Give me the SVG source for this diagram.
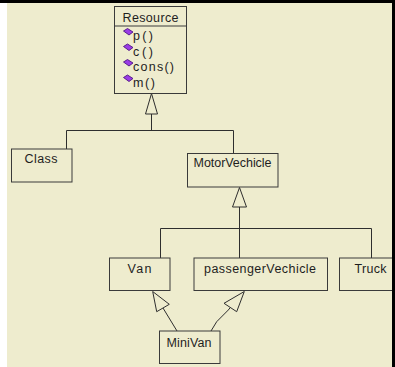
<svg xmlns="http://www.w3.org/2000/svg" width="395" height="367" viewBox="0 0 395 367">
  <style>
    .box { fill: none; stroke: #3a3a3a; stroke-width: 1; }
    .line { fill: none; stroke: #2e2e2e; stroke-width: 1; }
    .head { fill: #eeecce; stroke: #2e2e2e; stroke-width: 1; stroke-linejoin: miter; }
    .lbl { font-family: "Liberation Sans", Arial, sans-serif; font-size: 12.5px; fill: #1e1e1e; }
    .c { text-anchor: middle; }
    .op { fill: #9a3ce6; stroke: #4e1482; stroke-width: 0.9; }
  </style>

  <!-- canvas -->
  <rect x="0" y="0" width="395" height="367" fill="#ffffff"/>
  <rect x="7" y="0" width="385" height="367" fill="#eeecce"/>
  <rect x="0" y="0" width="395" height="3" fill="#000000"/>

  <!-- generalisation connectors -->
  <g id="connectors">
    <!-- Class / MotorVechicle -> Resource -->
    <polyline class="line" points="66.5,149 66.5,130.5 233.5,130.5 233.5,153"/>
    <line class="line" x1="151.5" y1="114" x2="151.5" y2="130.5"/>
    <polygon class="head" points="151.5,93.5 145.5,114 157.5,114"/>

    <!-- Van / passengerVechicle / Truck -> MotorVechicle -->
    <polyline class="line" points="160.5,258 160.5,228.5 371.5,228.5 371.5,258"/>
    <line class="line" x1="239.5" y1="207" x2="239.5" y2="258"/>
    <polygon class="head" points="239.5,187.5 232.5,207 246.5,207"/>

    <!-- MiniVan -> Van -->
    <line class="line" x1="163" y1="308" x2="177" y2="331"/>
    <polygon class="head" points="152.7,291.5 156.7,311.7 169.3,304.3"/>

    <!-- MiniVan -> passengerVechicle -->
    <polyline class="line" points="230.3,307.5 228.3,310 216.7,321.7 211,331"/>
    <polygon class="head" points="244.3,291.5 224,303.3 236.7,311.7"/>
  </g>

  <g id="Resource">
    <rect class="box" x="114.5" y="6.5" width="72" height="87"/>
    <line class="box" x1="114.5" y1="26" x2="186.5" y2="26"/>
    <text class="lbl c" x="150.5" y="21.5" textLength="56" lengthAdjust="spacing">Resource</text>
    <polygon class="op" points="123.5,31 127.5,28.5 133,32 129,35"/>
    <text class="lbl" x="133" y="40" textLength="20" lengthAdjust="spacing">p()</text>
    <polygon class="op" points="123.5,46.5 127.5,44 133,47.5 129,50.5"/>
    <text class="lbl" x="133" y="55.5" textLength="20" lengthAdjust="spacing">c()</text>
    <polygon class="op" points="123.5,62 127.5,59.5 133,63 129,66"/>
    <text class="lbl" x="133" y="71" textLength="41" lengthAdjust="spacing">cons()</text>
    <polygon class="op" points="123.5,77.5 127.5,75 133,78.5 129,81.5"/>
    <text class="lbl" x="133" y="86.5" textLength="22" lengthAdjust="spacing">m()</text>
  </g>

  <g id="Class">
    <rect class="box" x="11.5" y="149" width="60.5" height="33"/>
    <text class="lbl c" x="41" y="163" textLength="33" lengthAdjust="spacing">Class</text>
  </g>

  <g id="MotorVechicle">
    <rect class="box" x="187.5" y="153.5" width="90.5" height="33.5"/>
    <text class="lbl c" x="232.5" y="167" textLength="78" lengthAdjust="spacing">MotorVechicle</text>
  </g>

  <g id="Van">
    <rect class="box" x="109.5" y="258" width="60.5" height="32.5"/>
    <text class="lbl c" x="139.5" y="273" textLength="24" lengthAdjust="spacing">Van</text>
  </g>

  <g id="passengerVechicle">
    <rect class="box" x="194" y="258" width="133.5" height="32.5"/>
    <text class="lbl c" x="260" y="273" textLength="112" lengthAdjust="spacing">passengerVechicle</text>
  </g>

  <g id="Truck">
    <rect class="box" x="339.5" y="258" width="60" height="32.5"/>
    <text class="lbl" x="354.5" y="273" textLength="32" lengthAdjust="spacing">Truck</text>
  </g>

  <g id="MiniVan">
    <rect class="box" x="159.5" y="331" width="60.5" height="32.5"/>
    <text class="lbl c" x="189" y="347" textLength="45" lengthAdjust="spacing">MiniVan</text>
  </g>

  <!-- right frame drawn last so the Truck box is cut at the edge -->
  <rect x="392" y="0" width="3" height="367" fill="#000000"/>
</svg>
